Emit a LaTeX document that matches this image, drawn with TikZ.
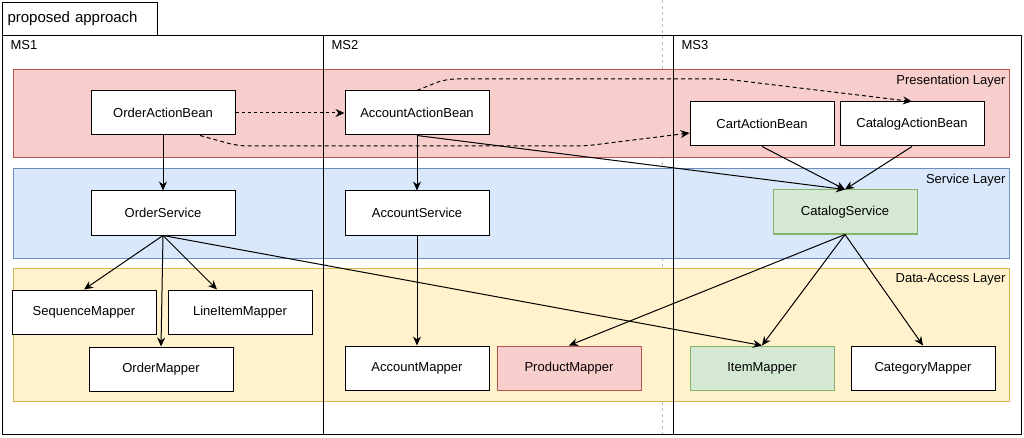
\documentclass[tikz,border=0pt]{standalone}
\usepackage{fontspec}
\setmainfont{Liberation Sans}
\usepackage{xcolor}
\usepackage{tikz}
\usetikzlibrary{calc}
\usetikzlibrary{arrows.meta, positioning, backgrounds}

\definecolor{pinkfill}{HTML}{F8CECC}
\definecolor{pinkline}{HTML}{B85450}
\definecolor{bluefill}{HTML}{DAE8FC}
\definecolor{blueline}{HTML}{6C8EBF}
\definecolor{yellowfill}{HTML}{FFF2CC}
\definecolor{yellowline}{HTML}{D6B656}
\definecolor{greenfill}{HTML}{D5E8D4}
\definecolor{greenline}{HTML}{82B366}

\begin{document}
\begin{tikzpicture}[x=1pt,y=-1pt,-,line width=1pt,
                    main node/.style={rectangle,draw,fill=white,minimum width=144pt,minimum height=44pt,font=\fontsize{13}{15}\selectfont},
                    layer/.style={rectangle,anchor=north west,inner sep=0pt,minimum width=996pt},
                    label node/.style={inner sep=2pt,font=\fontsize{13}{15}\selectfont},
                    arr/.style={-{Stealth[length=9pt,width=8pt]}}]
\useasboundingbox (0,0) rectangle (1024,438);
%page break
  \draw[line width=0.5pt,black!25,dash pattern=on 3pt off 3pt] (662,0) -- (662,438);
%layers
  \node[layer,fill=pinkfill,draw=pinkline,minimum height=88pt] (Layer1) at (13,69) {};
  \node[layer,fill=bluefill,draw=blueline,minimum height=90pt] (Layer2) at (13,168) {};
  \node[layer,fill=yellowfill,draw=yellowline,minimum height=133pt] (Layer3) at (13,268) {};
  \node[label node,anchor=north east] at ([xshift=-2pt,yshift=-3.4pt]Layer1.north east) {Presentation Layer};
  \node[label node,anchor=north east] at ([xshift=-2pt,yshift=-3.4pt]Layer2.north east) {Service Layer};
  \node[label node,anchor=north east] at ([xshift=-2pt,yshift=-3.4pt]Layer3.north east) {Data-Access Layer};
%microservices
  \node (Title) [draw,anchor=north west,inner sep=5pt,text width=145pt,minimum height=33pt,align=left,font=\fontsize{15}{17}\selectfont] at (2,2) {proposed approach};
  \node (Box1) [draw,anchor=north west,inner sep=0pt,minimum width=321pt,minimum height=399pt] at (2,35) {};
  \node (Box2) [draw,anchor=north west,inner sep=0pt,minimum width=350pt,minimum height=399pt] at (323,35) {};
  \node (Box3) [draw,anchor=north west,inner sep=0pt,minimum width=348pt,minimum height=399pt] at (673,35) {};
  \node[label node,anchor=north west] at ([xshift=6pt,yshift=-3.3pt]Box1.north west) {MS1};
  \node[label node,anchor=north west] at ([xshift=6pt,yshift=-3.3pt]Box2.north west) {MS2};
  \node[label node,anchor=north west] at ([xshift=6pt,yshift=-3.3pt]Box3.north west) {MS3};
%first section
  \node[main node] (1) at (163,113) {OrderActionBean};
  \node[main node] (2) [below=55pt of 1] {OrderService};
  \node[main node] (3) at (84,312) {SequenceMapper};
  \node[main node] (4) [right=11pt of 3] {LineItemMapper};
  \node[main node] (5) at (161,369) {OrderMapper};
%second section
  \node[main node] (6) at (417,113) {AccountActionBean};
  \node[main node] (7) [below=55pt of 6] {AccountService};
  \node[main node] (8) at (417,368) {AccountMapper};
  \node[main node,fill=pinkfill,draw=pinkline] (9) [right=7pt of 8] {ProductMapper};
%third section
  \node[main node] (10) at (762,124) {CartActionBean};
  \node[main node] (11) [right=5pt of 10] {CatalogActionBean};
  \node[main node,fill=greenfill,draw=greenline] (12) at (845,212) {CatalogService};
  \node[main node,fill=greenfill,draw=greenline] (13) at (762,368) {ItemMapper};
  \node[main node] (14) [right=16pt of 13] {CategoryMapper};

  \path[arr]
  (1) edge (2)
  (1) edge[dashed] (6)
  (2.south) edge (3.north)
  (2.south) edge ([xshift=-23pt]4.north)
  (2.south) edge (5.north)
  (2.south) edge (13.north)

  (6) edge (7)
  (7) edge (8)
  (6.south) edge (12.north)

  (10.south) edge (12.north)
  (11.south) edge (12.north)
  (12.south) edge (9.north)
  (12.south) edge (13.north)
  (12.south) edge (14.north);

  \draw[arr,dash pattern=on 4pt off 3pt,rounded corners=10pt] ([xshift=37pt]1.south) -- (238,146) -- (585,146) -- ([yshift=-9pt]10.west);
  \draw[arr,dash pattern=on 4pt off 3pt,rounded corners=10pt] (6.north) -- (445,79) -- (725,79) -- (11.north);

\end{tikzpicture}
\end{document}
